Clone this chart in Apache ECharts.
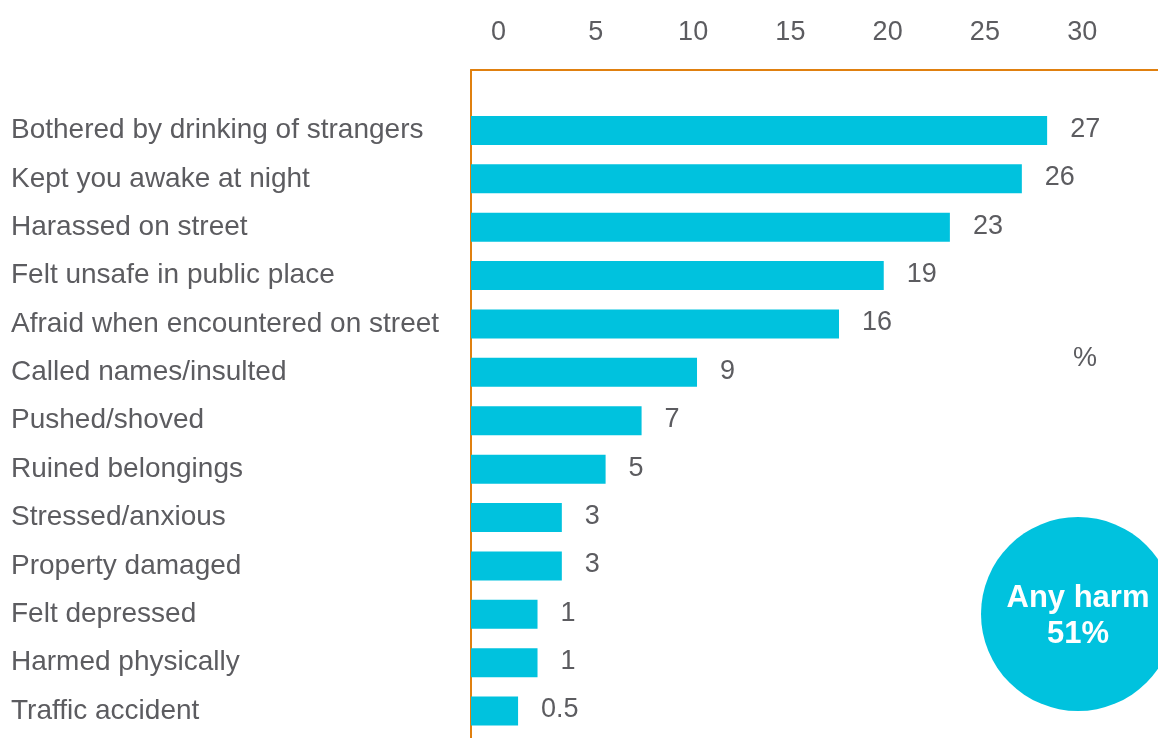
<!DOCTYPE html>
<html>
<head>
<meta charset="utf-8">
<script src="https://cdn.jsdelivr.net/npm/echarts@6/dist/echarts.min.js"></script>
<style>
  html, body { margin: 0; padding: 0; background: #ffffff; }
  #chart { width: 1158px; height: 738px; }
</style>
</head>
<body>
<div id="chart"></div>
<script>
// Categories, top to bottom
const categories = [
  'Bothered by drinking of strangers',
  'Kept you awake at night',
  'Harassed on street',
  'Felt unsafe in public place',
  'Afraid when encountered on street',
  'Called names/insulted',
  'Pushed/shoved',
  'Ruined belongings',
  'Stressed/anxious',
  'Property damaged',
  'Felt depressed',
  'Harmed physically',
  'Traffic accident'
];
// Numbers printed beside the bars (%)
const displayValues = [27, 26, 23, 19, 16, 9, 7, 5, 3, 3, 1, 1, 0.5];
// Where each bar ends, read against the top axis (%)
const barEnds = [28.2, 26.9, 23.2, 19.8, 17.5, 10.2, 7.35, 5.5, 3.25, 3.25, 2.0, 2.0, 1.0];
// Top axis tick labels
const tickValues = [0, 5, 10, 15, 20, 25, 30];
// Axis range as drawn (the bars begin at the left end of the axis)
const axisMin = -1.42;
const axisMax = 33.9;
const unitLabel = '%';
const calloutLabel = 'Any harm';
const calloutValue = '51%';

const FONT = '"Liberation Sans", Arial, Helvetica, sans-serif';
const GREY = '#5C5C60';
const ORANGE = '#E0800F';
const CYAN = '#00C2DE';

const chart = echarts.init(document.getElementById('chart'), null, { renderer: 'canvas' });

const option = {
  animation: false,
  backgroundColor: '#ffffff',
  textStyle: { fontFamily: FONT },
  grid: [
    { left: 471, right: 0, top: 106.3, bottom: 2.8, containLabel: false },
    { left: 471, right: 0, top: 70, bottom: 0, containLabel: false }
  ],
  xAxis: [
    {
      gridIndex: 0,
      type: 'value',
      position: 'top',
      offset: 36.3,
      min: axisMin,
      max: axisMax,
      startValue: axisMin,
      axisLine: { show: true, onZero: false, lineStyle: { color: ORANGE, width: 2 } },
      axisTick: { show: false },
      splitLine: { show: false },
      axisLabel: {
        show: true,
        customValues: tickValues,
        margin: 24,
        fontSize: 27,
        color: GREY,
        fontFamily: FONT
      }
    },
    {
      gridIndex: 1,
      type: 'value',
      show: false,
      min: 0,
      max: 1
    }
  ],
  yAxis: [
    {
      gridIndex: 0,
      type: 'category',
      data: categories,
      inverse: true,
      axisLine: { show: false },
      axisTick: { show: false },
      splitLine: { show: false },
      axisLabel: {
        align: 'left',
        margin: 460,
        fontSize: 28,
        color: GREY,
        fontFamily: FONT
      }
    },
    {
      gridIndex: 1,
      type: 'value',
      min: 0,
      max: 1,
      axisLine: { show: true, onZero: false, lineStyle: { color: ORANGE, width: 2 } },
      axisTick: { show: false },
      axisLabel: { show: false },
      splitLine: { show: false }
    }
  ],
  series: [
    {
      type: 'bar',
      xAxisIndex: 0,
      yAxisIndex: 0,
      data: barEnds,
      barWidth: 29,
      itemStyle: { color: CYAN },
      z: 1,
      label: {
        show: true,
        position: 'right',
        distance: 23,
        offset: [0, -1],
        fontSize: 27,
        color: GREY,
        fontFamily: FONT,
        formatter: (p) => String(displayValues[p.dataIndex])
      }
    }
  ],
  graphic: [
    {
      type: 'text',
      left: 1073,
      top: 345,
      style: { text: unitLabel, fontSize: 27, fill: GREY, font: '27px ' + FONT }
    },
    {
      type: 'group',
      children: [
        {
          type: 'circle',
          shape: { cx: 1078, cy: 614, r: 97 },
          style: { fill: CYAN }
        },
        {
          type: 'text',
          x: 1078,
          y: 616,
          style: {
            text: calloutLabel + '\n' + calloutValue,
            fill: '#ffffff',
            font: 'bold 31px ' + FONT,
            align: 'center',
            verticalAlign: 'middle',
            lineHeight: 36
          }
        }
      ]
    }
  ]
};

chart.setOption(option);
</script>
</body>
</html>
